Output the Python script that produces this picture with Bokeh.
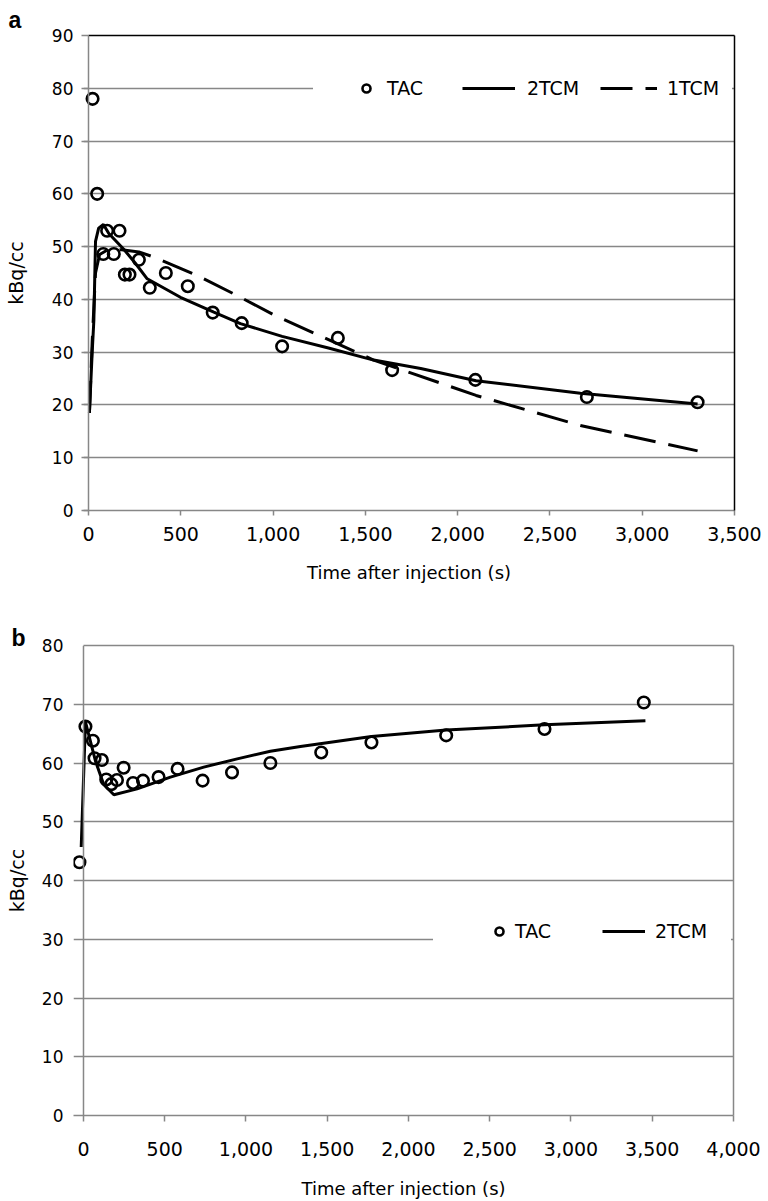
from bokeh.plotting import figure
from bokeh.models import (ColumnDataSource, Range1d, FixedTicker, NumeralTickFormatter,
                          LinearAxis, Legend, LegendItem, Span)
from bokeh.embed import file_html
from bokeh.resources import INLINE

# ---------------- data ----------------
# panel a
a_tac_t = [22, 47, 80, 101, 137, 168, 197, 222, 273, 332, 419, 538, 673, 830,
           1049, 1351, 1645, 2096, 2700, 3300]
a_tac_v = [78, 60, 48.6, 53, 48.6, 53, 44.7, 44.7, 47.5, 42.2, 45, 42.5, 37.5, 35.5,
           31.1, 32.7, 26.6, 24.75, 21.5, 20.5]
a_2tcm_t = [5, 20, 29, 38, 55, 81, 110, 191, 255, 318, 498, 679, 823, 1049, 1300, 1545,
            1800, 2100, 2665, 3300]
a_2tcm_v = [18.5, 30, 36, 51, 53.5, 54.2, 52.5, 49.5, 46.8, 43.9, 40.4, 37.6, 35.4, 33.0,
            30.8, 28.5, 26.9, 24.6, 22.2, 20.2]
a_1tcm_t = [5, 20, 38, 60, 100, 180, 273, 363, 590, 807, 1013, 1545, 2100, 2665, 3300]
a_1tcm_v = [18.5, 32, 45, 48.5, 49.3, 49.4, 49, 47.9, 44.5, 40.7, 36.9, 28.5, 21.8,
            16.1, 11.3]
a_xticks = [0, 500, 1000, 1500, 2000, 2500, 3000, 3500]
a_yticks = [0, 10, 20, 30, 40, 50, 60, 70, 80, 90]

# panel b
b_tac_t = [-25, 12, 58, 68, 113, 140, 171, 206, 247, 305, 366, 462, 579, 733, 914,
           1150, 1463, 1772, 2232, 2837, 3448]
b_tac_v = [43.1, 66.2, 63.8, 60.8, 60.5, 57.2, 56.4, 57.1, 59.2, 56.6, 57.0, 57.6,
           59.0, 57.0, 58.4, 60.0, 61.8, 63.5, 64.7, 65.8, 70.3]
b_2tcm_t = [-14, 12, 74, 125, 187, 330, 535, 740, 946, 1150, 1335, 1772, 2232, 2837, 3458]
b_2tcm_v = [45.7, 67.0, 60.3, 56.3, 54.6, 55.6, 57.6, 59.3, 60.7, 62.0, 62.8, 64.5,
            65.6, 66.5, 67.2]
b_xticks = [0, 500, 1000, 1500, 2000, 2500, 3000, 3500, 4000]
b_yticks = [0, 10, 20, 30, 40, 50, 60, 70, 80]

x_title = "Time after injection (s)"
y_title = "kBq/cc"

FONT = "DejaVu Sans"
GREY = "#878787"


def style_panel(p, letter, letter_offset, letter_standoff, xticks, yticks, x_end, y_end,
                border_color, ytick_out, ytick_in, ylab_standoff, ytitle_standoff,
                xtick_out, xlab_standoff, xtitle_standoff):
    p.outline_line_color = None
    p.background_fill_color = "white"
    p.border_fill_color = "white"

    p.title.text = letter
    p.title.align = "left"
    p.title.offset = letter_offset
    p.title.text_font = "Liberation Sans"
    p.title.text_font_style = "bold"
    p.title.text_font_size = "23px"
    p.title.text_color = "black"
    try:
        p.title.standoff = letter_standoff
    except Exception:
        p.title.standoff = 0

    xa = p.xaxis[0]
    xa.ticker = FixedTicker(ticks=xticks)
    xa.formatter = NumeralTickFormatter(format="0,0")
    xa.axis_label = x_title
    xa.axis_label_text_font = FONT
    xa.axis_label_text_font_size = "18px"
    xa.axis_label_text_font_style = "normal"
    xa.axis_label_text_color = "black"
    xa.axis_label_standoff = xtitle_standoff
    xa.major_label_text_font = FONT
    xa.major_label_text_font_size = "19px"
    xa.major_label_text_color = "black"
    xa.major_label_standoff = xlab_standoff
    xa.major_tick_out = xtick_out
    xa.major_tick_in = 0
    xa.minor_tick_out = 0
    xa.minor_tick_in = 0
    xa.axis_line_color = GREY
    xa.axis_line_width = 1.5
    xa.major_tick_line_color = GREY
    xa.major_tick_line_width = 1.5

    ya = p.yaxis[0]
    ya.ticker = FixedTicker(ticks=yticks)
    ya.axis_label = y_title
    ya.axis_label_text_font = FONT
    ya.axis_label_text_font_size = "19px"
    ya.axis_label_text_font_style = "normal"
    ya.axis_label_text_color = "black"
    ya.axis_label_standoff = ytitle_standoff
    ya.major_label_text_font = FONT
    ya.major_label_text_font_size = "17px"
    ya.major_label_text_color = "black"
    ya.major_label_standoff = ylab_standoff
    ya.major_tick_out = ytick_out
    ya.major_tick_in = ytick_in
    ya.minor_tick_out = 0
    ya.minor_tick_in = 0
    ya.axis_line_color = None
    ya.major_tick_line_color = GREY
    ya.major_tick_line_width = 1.5

    # the vertical axis line sits at t = 0
    p.add_layout(Span(location=0, dimension="height", line_color=GREY, line_width=1.5))

    p.xgrid.visible = False
    p.ygrid.ticker = FixedTicker(ticks=yticks)
    p.ygrid.grid_line_color = GREY
    p.ygrid.grid_line_width = 1.5

    for place, bnds in (("above", (0, x_end)), ("right", (0, y_end))):
        ax = LinearAxis(ticker=FixedTicker(ticks=[]), bounds=bnds,
                        axis_line_color=border_color, axis_line_width=1.5,
                        major_tick_out=0, major_tick_in=0, minor_tick_out=0, minor_tick_in=0,
                        major_label_text_font_size="0px", major_label_text_color=None)
        p.add_layout(ax, place)


def add_legend(p, label, renderers, x, y, glyph_w, standoff, label_w):
    lg = Legend(items=[LegendItem(label=label, renderers=renderers)],
                location=(x, y), orientation="horizontal",
                glyph_width=glyph_w, glyph_height=20, label_height=20,
                label_standoff=standoff, label_width=label_w,
                padding=0, margin=0, spacing=0,
                background_fill_color="white", background_fill_alpha=1.0,
                border_line_color=None,
                label_text_font=FONT, label_text_font_size="19px",
                label_text_color="black")
    p.add_layout(lg)


# ---------------- panel a ----------------
pa = figure(width=768, height=592, x_range=Range1d(-27.1, 3500), y_range=Range1d(0, 90),
            output_backend="svg", toolbar_location=None,
            min_border_left=83, min_border_right=34, min_border_top=35, min_border_bottom=82)
style_panel(pa, "a", -75, 6, a_xticks, a_yticks, 3500, 90, "black",
            ytick_out=2, ytick_in=5, ylab_standoff=8, ytitle_standoff=22,
            xtick_out=5, xlab_standoff=11, xtitle_standoff=18)

src_a2 = ColumnDataSource(dict(t=a_2tcm_t, v=a_2tcm_v))
src_a1 = ColumnDataSource(dict(t=a_1tcm_t, v=a_1tcm_v))
src_at = ColumnDataSource(dict(t=a_tac_t, v=a_tac_v))
r_a1 = pa.line("t", "v", source=src_a1, line_color="black", line_width=3, line_dash="32 13")
r_a2 = pa.line("t", "v", source=src_a2, line_color="black", line_width=3)
r_at = pa.scatter("t", "v", source=src_at, marker="circle", size=11.5, fill_color="white",
                  fill_alpha=0, line_color="black", line_width=2.6)

# legend box (white, hides the grid line behind the legend) + items
add_legend(pa, " ", [], 230, 411, 43, 0, 0)
add_legend(pa, "TAC", [r_at], 273, 411, 20, 11, 75)
add_legend(pa, "2TCM", [r_a2], 379, 411, 53, 12, 73)
add_legend(pa, "1TCM", [r_a1], 517, 411, 57, 10, 65)

# ---------------- panel b ----------------
pb = figure(width=768, height=609, x_range=Range1d(-61.5, 4000), y_range=Range1d(0, 80),
            output_backend="svg", toolbar_location=None,
            min_border_left=73, min_border_right=35, min_border_top=53, min_border_bottom=85)
style_panel(pb, "b", -62, -10, b_xticks, b_yticks, 4000, 80, GREY,
            ytick_out=0, ytick_in=0, ylab_standoff=10, ytitle_standoff=11,
            xtick_out=6, xlab_standoff=20, xtitle_standoff=19)

src_b2 = ColumnDataSource(dict(t=b_2tcm_t, v=b_2tcm_v))
src_bt = ColumnDataSource(dict(t=b_tac_t, v=b_tac_v))
r_b2 = pb.line("t", "v", source=src_b2, line_color="black", line_width=3)
r_bt = pb.scatter("t", "v", source=src_bt, marker="circle", size=11.5, fill_color="white",
                  fill_alpha=0, line_color="black", line_width=2.6)

add_legend(pb, " ", [], 360, 173, 56, 0, 0)
add_legend(pb, "TAC", [r_bt], 416, 173, 20, 6, 87)
add_legend(pb, "2TCM", [r_b2], 529, 173, 43, 10, 76)

open("out.html", "w").write(file_html([pa, pb], INLINE))
